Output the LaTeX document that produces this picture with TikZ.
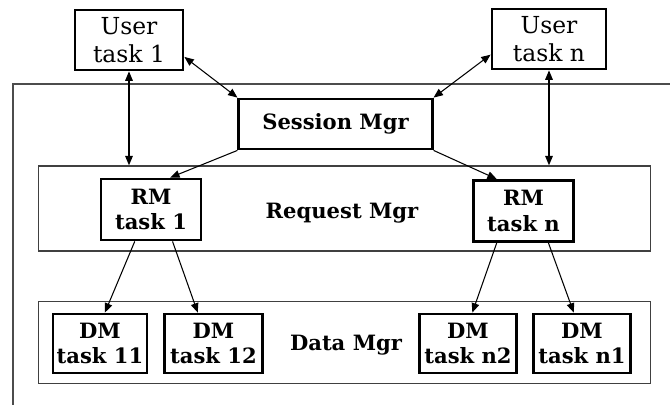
\documentclass[tikz,border=0pt]{standalone}
\usepackage{fontspec}
\setmainfont{DejaVu Serif}
\usetikzlibrary{arrows.meta, positioning}

\begin{document}
\begin{tikzpicture}[
    x=0.03cm, y=-0.03cm,
    every node/.style={align=center, inner sep=0pt, font=\fontsize{18}{22}\selectfont},
    task/.style={draw, line width=2.4pt, font=\fontsize{18}{22}\selectfont\bfseries},
    usertask/.style={task, font=\fontsize{20}{24}\selectfont, minimum height=1.8cm},
    mgrbox/.style={draw=black!75, line width=1.2pt, minimum width=18.35cm},
    frame/.style={draw=black!70, line width=1.7pt},
    arrow/.style={-{Triangle[length=8pt,width=6.5pt]}, line width=0.9pt},
    dblarrow/.style={{Triangle[length=8pt,width=6.5pt]}-{Triangle[length=8pt,width=6.5pt]}, line width=0.9pt}
]
\useasboundingbox (0,0) rectangle (670,405);

% Outer frame
\draw[frame] (13,405) |- (670,84);

% Containers
\node[mgrbox, minimum height=2.55cm] (rmgr) at (344.5,208.5) {};
\node[mgrbox, minimum height=2.45cm] (dmgr) at (344.5,342.5) {};
\node[font=\fontsize{18}{22}\selectfont\bfseries] (rlabel) at (342,213) {Request Mgr};
\node[font=\fontsize{18}{22}\selectfont\bfseries] (dlabel) at (346,345) {Data Mgr};

% Nodes
\node[usertask, minimum width=3.24cm] (u1) at (129,40) {User\\ task 1};
\node[usertask, minimum width=3.42cm] (un) at (549,39) {User\\ task n};
\node[task, minimum width=5.8cm, minimum height=1.5cm] (sm) at (335.5,124) {Session Mgr};
\node[task, minimum width=3cm, minimum height=1.83cm] (rm1) at (151,209.5) {RM\\ task 1};
\node[task, minimum width=3cm, minimum height=1.83cm] (rmn) at (523.5,211) {RM\\ task n};
\node[task, minimum width=2.82cm, minimum height=1.77cm] (dm11) at (100,343.5) {DM\\ task 11};
\node[task, minimum width=2.95cm, minimum height=1.77cm] (dm12) at (213.5,343.5) {DM\\ task 12};
\node[task, minimum width=2.92cm, minimum height=1.77cm] (dmn2) at (468,343.5) {DM\\ task n2};
\node[task, minimum width=2.92cm, minimum height=1.77cm] (dmn1) at (582,343.5) {DM\\ task n1};

% Arrows
\draw[dblarrow] (u1.south) -- (u1 |- rmgr.north);
\draw[dblarrow] (un.south) -- (un |- rmgr.north);
\draw[dblarrow] (u1.-17) -- (sm.north west);
\draw[dblarrow] (un.195) -- (sm.north east);
\draw[arrow] (sm.south west) -- (rm1.59);
\draw[arrow] (sm.south east) -- (rmn.130);
\draw[arrow] (rm1.-117) -- (dm11.81);
\draw[arrow] (rm1.-56) -- (dm12.117);
\draw[arrow] (rmn.-130) -- (dmn2.82);
\draw[arrow] (rmn.-52) -- (dmn1.105);

\end{tikzpicture}
\end{document}
